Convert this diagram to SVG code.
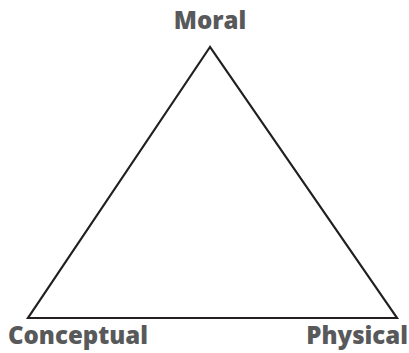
<svg xmlns="http://www.w3.org/2000/svg" width="409" height="353" viewBox="0 0 409 353">
<style>
.lbl{font-family:"Open Sans","Liberation Sans",sans-serif;font-weight:800;font-size:24px;fill:#58595b}
.edge{fill:none;stroke:#231f20;stroke-width:2.2;stroke-linejoin:miter}
</style>
<rect width="409" height="353" fill="#fff"/>
<g id="connectors">
<polygon class="edge" points="210,47 28,318 397,318"/>
</g>
<g id="moral"><text class="lbl" x="210" y="29" text-anchor="middle">Moral</text></g>
<g id="conceptual"><text class="lbl" x="8" y="344">Conceptual</text></g>
<g id="physical"><text class="lbl" x="408" y="344" text-anchor="end">Physical</text></g>
</svg>
